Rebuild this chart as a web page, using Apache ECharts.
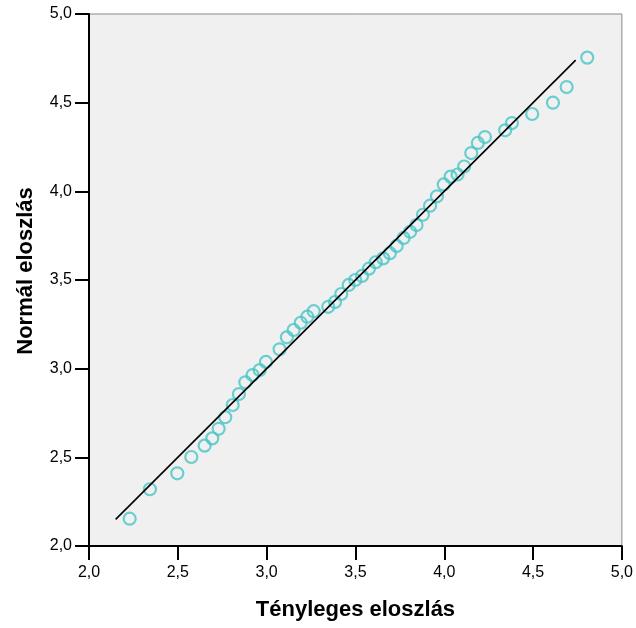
<!DOCTYPE html>
<html>
<head>
<meta charset="utf-8">
<script src="https://cdn.jsdelivr.net/npm/echarts@6/dist/echarts.min.js"></script>
<style>
  html, body { margin: 0; padding: 0; background: #fff; }
  #qq-plot { width: 636px; height: 628px; }
</style>
</head>
<body>
<div id="qq-plot"></div>
<script>
// Tényleges (x) és normál (y) értékek
var actualValues = [2.229, 2.343, 2.497, 2.576, 2.651, 2.694, 2.730, 2.767, 2.809, 2.844,
  2.880, 2.921, 2.961, 2.996, 3.073, 3.114, 3.152, 3.192, 3.229, 3.265,
  3.347, 3.385, 3.420, 3.462, 3.499, 3.537, 3.576, 3.614, 3.656, 3.694,
  3.732, 3.771, 3.808, 3.844, 3.880, 3.920, 3.959, 3.997, 4.036, 4.075,
  4.112, 4.152, 4.189, 4.229, 4.343, 4.381, 4.495, 4.612, 4.689, 4.805];
var normalValues = [2.154, 2.320, 2.410, 2.502, 2.566, 2.607, 2.661, 2.726, 2.795, 2.857,
  2.923, 2.964, 2.992, 3.038, 3.109, 3.177, 3.218, 3.259, 3.293, 3.324,
  3.349, 3.376, 3.421, 3.472, 3.500, 3.523, 3.564, 3.600, 3.622, 3.651,
  3.692, 3.737, 3.772, 3.810, 3.868, 3.919, 3.972, 4.039, 4.083, 4.095,
  4.140, 4.216, 4.273, 4.306, 4.344, 4.385, 4.436, 4.500, 4.588, 4.754];
// referencia egyenes (y = x) végpontjai
var refLineEnds = [2.15, 4.74];

var points = actualValues.map(function (v, i) { return [v, normalValues[i]]; });
var refLine = refLineEnds.map(function (v) { return [v, v]; });

function fmt(v) { return v.toFixed(1).replace('.', ','); }

var chart = echarts.init(document.getElementById('qq-plot'));

var option = {
  animation: false,
  textStyle: { fontFamily: 'Liberation Sans' },
  grid: {
    left: 89, right: 14, top: 14, bottom: 82,
    show: true,
    backgroundColor: '#f0f0f0',
    borderColor: '#888',
    borderWidth: 1
  },
  xAxis: {
    type: 'value',
    min: 2, max: 5, interval: 0.5,
    name: 'Tényleges eloszlás',
    nameLocation: 'middle',
    nameGap: 53,
    nameTextStyle: { fontSize: 22, fontWeight: 'bold', color: '#000', fontFamily: 'Liberation Sans' },
    axisLine: { show: true, lineStyle: { color: '#000', width: 2 } },
    axisTick: { show: true, inside: false, length: 14, lineStyle: { color: '#000', width: 2 } },
    axisLabel: { formatter: fmt, fontSize: 16, color: '#000', margin: 19, fontFamily: 'Liberation Sans' },
    splitLine: { show: false }
  },
  yAxis: {
    type: 'value',
    min: 2, max: 5, interval: 0.5,
    name: 'Normál eloszlás',
    nameLocation: 'middle',
    nameGap: 52,
    nameTextStyle: { fontSize: 22, fontWeight: 'bold', color: '#000', fontFamily: 'Liberation Sans', padding: [0, 0, 0, 18] },
    axisLine: { show: true, lineStyle: { color: '#000', width: 2 } },
    axisTick: { show: true, inside: false, length: 14, lineStyle: { color: '#000', width: 2 } },
    axisLabel: { formatter: fmt, fontSize: 16, color: '#000', margin: 17, fontFamily: 'Liberation Sans' },
    splitLine: { show: false }
  },
  series: [
    {
      name: 'Egyenes',
      type: 'line',
      data: refLine,
      symbol: 'none',
      lineStyle: { color: '#000', width: 1.6 },
      z: 3
    },
    {
      name: 'Pontok',
      type: 'scatter',
      data: points,
      symbol: 'circle',
      symbolSize: 12,
      itemStyle: { color: 'rgba(0,0,0,0)', borderColor: '#48c4c6', borderWidth: 2.2 },
      z: 2
    }
  ]
};

chart.setOption(option);
</script>
</body>
</html>
